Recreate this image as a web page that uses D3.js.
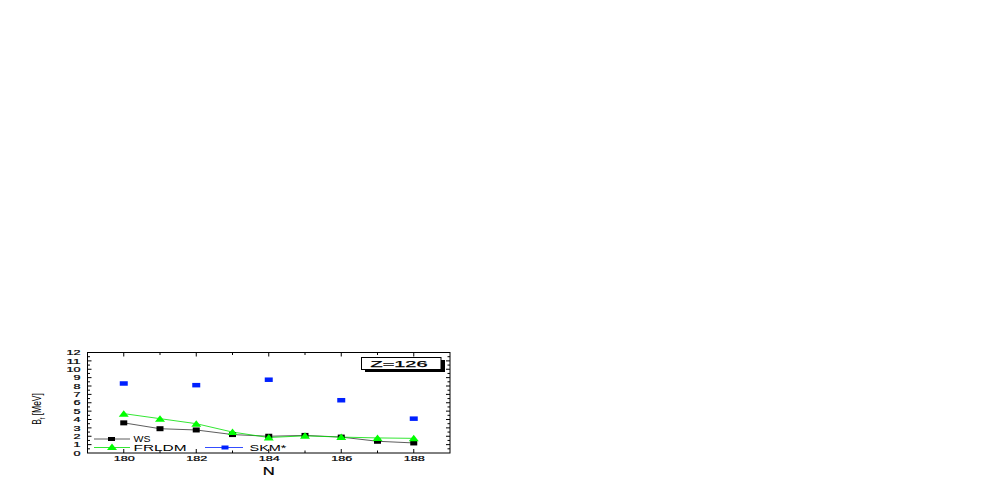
<!DOCTYPE html>
<html><head><meta charset="utf-8">
<script src="https://cdn.jsdelivr.net/npm/d3@7"></script>
<style>body{margin:0;background:#fff;}svg{display:block;}text{font-family:"Liberation Sans",Arial,sans-serif;}</style>
</head><body>
<svg id="c" width="997" height="485"></svg>
<script>
const nWS = [180,181,182,183,184,185,186,187,188];
const ws = [3.6,2.9,2.75,2.2,2.0,2.1,1.9,1.4,1.2];
const nFR = [180,181,182,183,184,185,186,187,188];
const frldm = [4.7,4.1,3.5,2.5,1.85,2.05,1.9,1.8,1.75];
const nSKM = [180,182,184,186,188];
const skm = [8.3,8.1,8.75,6.3,4.1];
const xTicks = [180,182,184,186,188];
const yTicks = [0,1,2,3,4,5,6,7,8,9,10,11,12];

const svg = d3.select("#c");
const L=87.5,R=450,T=352.5,B=453;
const x = d3.scaleLinear().domain([179,189]).range([L,R]);
const y = d3.scaleLinear().domain([0,12]).range([B,T]);

function txt(g,px,py,s,fs,len,anchor){
  return g.append("text").attr("x",px).attr("y",py).attr("font-size",fs)
    .attr("text-anchor",anchor||"start").attr("textLength",len)
    .attr("lengthAdjust","spacingAndGlyphs").text(s);
}

// frame
svg.append("rect").attr("x",L).attr("y",T).attr("width",R-L).attr("height",B-T)
  .attr("fill","none").attr("stroke","#000").attr("stroke-width",1);

// axes
const bottom = svg.append("g").attr("transform",`translate(0,${B})`)
  .call(d3.axisBottom(x).tickValues(xTicks).tickFormat(d3.format("d")).tickSize(0).tickPadding(3));
bottom.select(".domain").remove();
bottom.selectAll("text").attr("font-size",7).attr("dy","0.71em").attr("stroke","#000").attr("stroke-width",0.2)
  .attr("textLength",21).attr("lengthAdjust","spacingAndGlyphs");
const left = svg.append("g").attr("transform",`translate(${L},0)`)
  .call(d3.axisLeft(y).tickValues(yTicks).tickSize(0).tickPadding(7));
left.select(".domain").remove();
left.selectAll("text").attr("font-size",6.8).attr("stroke","#000").attr("stroke-width",0.2)
  .attr("textLength",d=>d>=10?14:7).attr("lengthAdjust","spacingAndGlyphs");

// inward ticks
const minorX = d3.range(180,189,1), minorY = d3.range(0.5,12,0.5);
minorX.forEach(v=>{
  const len = v%2===0?4:2.5;
  svg.append("line").attr("x1",x(v)).attr("x2",x(v)).attr("y1",B).attr("y2",B-len).attr("stroke","#000");
  svg.append("line").attr("x1",x(v)).attr("x2",x(v)).attr("y1",T).attr("y2",T+len).attr("stroke","#000");
});
minorY.forEach(v=>{
  const len = Number.isInteger(v)?4:2.5;
  svg.append("line").attr("x1",L).attr("x2",L+len).attr("y1",y(v)).attr("y2",y(v)).attr("stroke","#000");
  svg.append("line").attr("x1",R).attr("x2",R-len).attr("y1",y(v)).attr("y2",y(v)).attr("stroke","#000");
});

// axis titles
txt(svg,x(184),474.5,"N",11,12,"middle").attr("stroke","#000").attr("stroke-width",0.2);
const yl = svg.append("text").attr("transform",`translate(41,409) scale(1.45,1) rotate(-90)`)
  .attr("text-anchor","middle").attr("font-size",8.5);
yl.append("tspan").text("B");
yl.append("tspan").attr("font-size",5.5).attr("dy",2.5).text("f");
yl.append("tspan").attr("dy",-2.5).text(" [MeV]");

// lines
const line = d3.line();
svg.append("path").attr("d",line(nWS.map((n,i)=>[x(n),y(ws[i])]))).attr("fill","none").attr("stroke","#333").attr("stroke-width",0.8);
svg.append("path").attr("d",line(nFR.map((n,i)=>[x(n),y(frldm[i])]))).attr("fill","none").attr("stroke","#00e000").attr("stroke-width",0.8);

// markers
const sq = (g,cx,cy,col,w,h)=>g.append("rect").attr("x",cx-w/2).attr("y",cy-h/2).attr("width",w).attr("height",h).attr("fill",col);
const tri = (g,cx,cy)=>g.append("path").attr("d",`M${cx-5},${cy+3}L${cx+5},${cy+3}L${cx},${cy-3.5}Z`).attr("fill","#00ff00");
nWS.forEach((n,i)=>sq(svg,x(n),y(ws[i]),"#000",7,5));
nFR.forEach((n,i)=>tri(svg,x(n),y(frldm[i])));
nSKM.forEach((n,i)=>sq(svg,x(n),y(skm[i]),"#0020ff",8,4.5));

// legend
const lg = svg.append("g");
lg.append("line").attr("x1",94).attr("x2",130).attr("y1",439).attr("y2",439).attr("stroke","#333").attr("stroke-width",0.8);
sq(lg,111.5,439,"#000",7,4);
txt(lg,133.5,441.8,"WS",8.5,17);
lg.append("line").attr("x1",94).attr("x2",130).attr("y1",447.5).attr("y2",447.5).attr("stroke","#00e000").attr("stroke-width",0.8);
tri(lg,112,447);
txt(lg,133.5,450.5,"FRLDM",8.5,53);
lg.append("line").attr("x1",205).attr("x2",243).attr("y1",447.5).attr("y2",447.5).attr("stroke","#0020ff").attr("stroke-width",0.8);
sq(lg,225,447.5,"#0020ff",7,4);
txt(lg,249.5,450.5,"SKM*",8.5,37);

// Z label box
svg.append("rect").attr("x",365).attr("y",360).attr("width",80).attr("height",12).attr("fill","#000");
svg.append("rect").attr("x",361.5).attr("y",357.5).attr("width",79.5).attr("height",12).attr("fill","#fff").attr("stroke","#000").attr("stroke-width",1);
txt(svg,399,367.3,"Z=126",8.5,57,"middle").attr("stroke","#000").attr("stroke-width",0.25);
</script>
</body></html>
